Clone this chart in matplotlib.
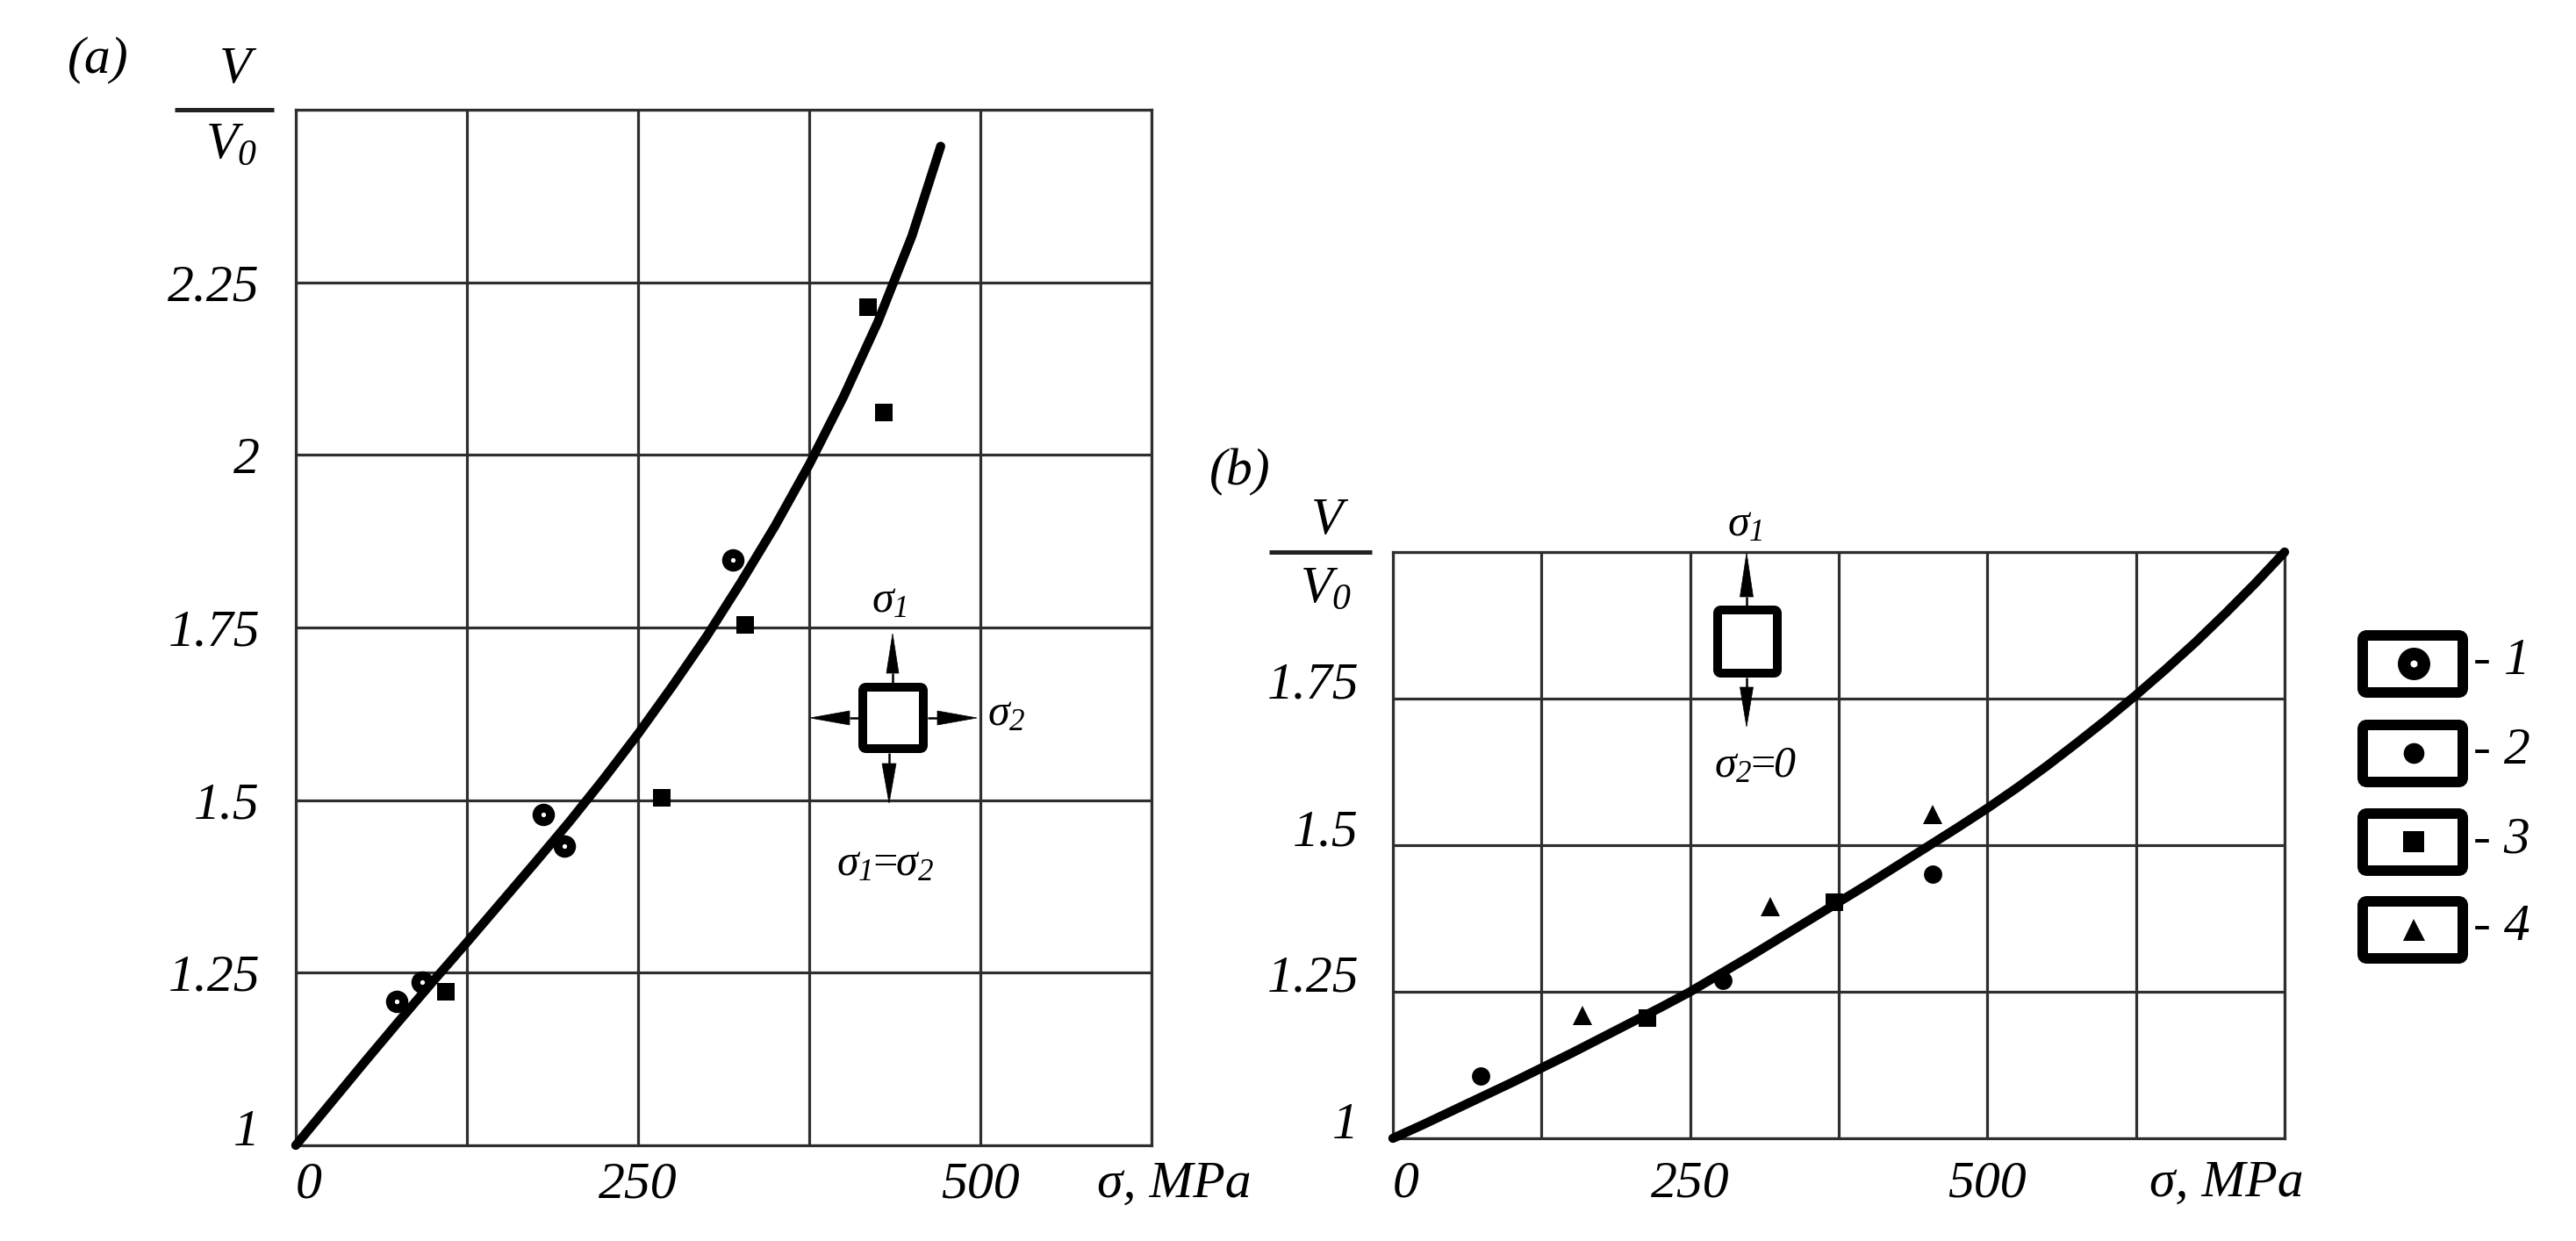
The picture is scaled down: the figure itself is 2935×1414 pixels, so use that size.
import matplotlib
matplotlib.use('Agg')
import matplotlib.pyplot as plt
from matplotlib.patches import FancyBboxPatch, Polygon

# ---------------- data ----------------
# panel (a): sigma1 = sigma2
a_curve_x = [0, 25, 50, 75, 100, 125, 150, 175, 200, 225, 250, 275, 300, 325, 350, 375,
             400, 425, 450, 471]
a_curve_y = [1.000, 1.060, 1.120, 1.179, 1.237, 1.294, 1.352, 1.410, 1.469, 1.531, 1.596,
             1.665, 1.737, 1.815, 1.897, 1.986, 2.084, 2.192, 2.317, 2.447]
a_s1_x = [73.5, 92.3, 181.0, 196.3, 319.0]
a_s1_y = [1.209, 1.237, 1.479, 1.434, 1.848]
a_s3_x = [109.4, 267.5, 328.0, 418.1, 429.2]
a_s3_y = [1.223, 1.504, 1.754, 2.214, 2.062]

# panel (b): sigma2 = 0
b_curve_x = [0, 25, 50, 75, 100, 125, 150, 175, 200, 225, 250, 275, 300, 325, 350, 375,
             400, 425, 450, 475, 500, 525, 550, 575, 600, 625, 650, 675, 700, 725, 750]
b_curve_y = [1.000, 1.023, 1.047, 1.071, 1.095, 1.120, 1.145, 1.171, 1.197, 1.223, 1.250,
             1.280, 1.310, 1.341, 1.372, 1.403, 1.434, 1.466, 1.498, 1.530, 1.563, 1.598,
             1.635, 1.674, 1.714, 1.756, 1.800, 1.846, 1.895, 1.946, 2.000]
b_s2_x = [73.6, 277.8, 453.8]
b_s2_y = [1.106, 1.27, 1.45]
b_s3_x = [213.9, 371.3]
b_s3_y = [1.205, 1.402]
b_s4_x = [159.7, 317.2, 453.8]
b_s4_y = [1.21, 1.395, 1.552]

a_xticks = [0, 125, 250, 375, 500, 625]
a_xlabels = ['0', '', '250', '', '500', '']
a_yticks = [1, 1.25, 1.5, 1.75, 2, 2.25, 2.5]
a_ylabels = ['1', '1.25', '1.5', '1.75', '2', '2.25', '']
b_xticks = [0, 125, 250, 375, 500, 625, 750]
b_xlabels = ['0', '', '250', '', '500', '', '']
b_yticks = [1, 1.25, 1.5, 1.75, 2]
b_ylabels = ['1', '1.25', '1.5', '1.75', '']
x_unit = 'σ, MPa'
legend_labels = ['- 1', '- 2', '- 3', '- 4']

# ---------------- style ----------------
W, H, DPI = 2935, 1414, 100
plt.rcParams['font.family'] = ['Liberation Serif', 'DejaVu Serif']
plt.rcParams['font.style'] = 'italic'
plt.rcParams['mathtext.fontset'] = 'custom'
plt.rcParams['mathtext.it'] = 'Liberation Serif:italic'
plt.rcParams['mathtext.rm'] = 'Liberation Serif:italic'
plt.rcParams['mathtext.default'] = 'it'

GRID = '#2e2e2e'
GLW = 2.3
FS = 43
CURVE_LW = 7.5

ring = dict(ls='none', marker='o', ms=11.2, mew=7.2, mfc='white', mec='black')
dot = dict(ls='none', marker='o', ms=15, mew=0, mfc='black')
sq = dict(ls='none', marker='s', ms=14.5, mew=0, mfc='black')
tri = dict(ls='none', marker='^', ms=15.5, mew=0, mfc='black')

fig = plt.figure(figsize=(W / DPI, H / DPI), dpi=DPI)
fig.patch.set_facecolor('white')


def rect(l, t, r, b):
    return [l / W, 1 - b / H, (r - l) / W, (b - t) / H]


ax_a = fig.add_axes(rect(337, 125, 1312, 1305))
ax_b = fig.add_axes(rect(1587, 629, 2603, 1297))


def setup(ax, xt, xl, yt, yl, xpad, ypad):
    ax.set_xlim(xt[0], xt[-1])
    ax.set_ylim(yt[0], yt[-1])
    ax.set_xticks(xt, labels=xl)
    ax.set_yticks(yt, labels=yl)
    ax.grid(True, color=GRID, lw=GLW)
    ax.set_axisbelow(True)
    for sp in ax.spines.values():
        sp.set_color(GRID)
        sp.set_linewidth(GLW)
    ax.tick_params(length=0, labelsize=FS)
    ax.tick_params(axis='x', pad=xpad)
    ax.tick_params(axis='y', pad=ypad)
    ax.get_xticklabels()[0].set_ha('left')


setup(ax_a, a_xticks, a_xlabels, a_yticks, a_ylabels, 13, 29.5)
setup(ax_b, b_xticks, b_xlabels, b_yticks, b_ylabels, 18, 28)

ax_a.get_yticklabels()[0].set_va('baseline')
for lab in ax_b.get_yticklabels():
    lab.set_va('baseline')

# data
ax_a.plot(a_s1_x, a_s1_y, zorder=3, **ring)
ax_a.plot(a_s3_x, a_s3_y, zorder=3, **sq)
ax_a.plot(a_curve_x, a_curve_y, color='black', lw=CURVE_LW, solid_capstyle='round',
          solid_joinstyle='round', zorder=4, clip_on=False)

ax_b.plot(b_s2_x, b_s2_y, zorder=3, **dot)
ax_b.plot(b_s3_x, b_s3_y, zorder=3, **sq)
ax_b.plot(b_s4_x, b_s4_y, zorder=3, **tri)
ax_b.plot(b_curve_x, b_curve_y, color='black', lw=CURVE_LW, solid_capstyle='round',
          solid_joinstyle='round', zorder=4, clip_on=False)

# ---------------- overlay in pixel coordinates ----------------
ov = fig.add_axes([0, 0, 1, 1], zorder=10)
ov.set_xlim(0, W)
ov.set_ylim(H, 0)
ov.axis('off')

# unit labels under the x axes
ov.text(1250, 1305 + 18, x_unit, ha='left', va='top', fontsize=FS)
ov.text(2449, 1297 + 25, x_unit, ha='left', va='top', fontsize=FS)

# panel letters
ov.text(112, 68, '(a)', ha='center', va='center', fontsize=FS)
ov.text(1413, 538, '(b)', ha='center', va='center', fontsize=FS)

# V / V0 fraction labels
ov.text(268, 80, 'V', ha='center', va='center', fontsize=FS)
ov.plot([199, 312], [125, 125], color='#222222', lw=3.6, solid_capstyle='butt')
ov.text(263, 166, r'$V_{0}$', ha='center', va='center', fontsize=FS)
ov.text(1512, 594, 'V', ha='center', va='center', fontsize=FS)
ov.plot([1446, 1563], [629, 629], color='#222222', lw=3.6, solid_capstyle='butt')
ov.text(1510, 672, r'$V_{0}$', ha='center', va='center', fontsize=FS)


def arrow(x0, y0, x1, y1, hl, hw):
    dx, dy = x1 - x0, y1 - y0
    L = (dx * dx + dy * dy) ** 0.5
    ux, uy = dx / L, dy / L
    bx, by = x1 - ux * hl, y1 - uy * hl
    ov.plot([x0, bx], [y0, by], color='black', lw=1.8, solid_capstyle='butt')
    px, py = -uy, ux
    ov.add_patch(Polygon([[x1, y1], [bx + px * hw / 2, by + py * hw / 2],
                          [bx - px * hw / 2, by - py * hw / 2]],
                         closed=True, fc='black', ec='black', lw=0.5))


def element(l, t, r, b):
    lw_px = 10
    ov.add_patch(FancyBboxPatch((l + lw_px / 2, t + lw_px / 2), r - l - lw_px, b - t - lw_px,
                                boxstyle='round,pad=0,rounding_size=4',
                                fc='white', ec='black', lw=lw_px * 72 / DPI))


# panel (a) stress element
element(978, 778, 1057, 858)
arrow(1017, 778, 1017, 722, 45, 14)
arrow(1013, 858, 1013, 915, 45, 16)
arrow(978, 818, 923, 818, 45, 16)
arrow(1057, 818, 1113, 818, 45, 16)
SFS = 36
ov.text(1013, 685, r'$\sigma_{1}$', ha='center', va='center', fontsize=SFS)
ov.text(1147, 814, r'$\sigma_{2}$', ha='center', va='center', fontsize=SFS)
ov.text(1008, 985, r'$\sigma_{1}\!\!=\!\!\sigma_{2}$', ha='center', va='center', fontsize=SFS)

# panel (b) stress element
element(1952, 690, 2030, 772)
arrow(1990, 690, 1990, 630, 50, 15)
arrow(1990, 772, 1990, 828, 45, 15)
ov.text(1988, 598, r'$\sigma_{1}$', ha='center', va='center', fontsize=SFS)
ov.text(2000, 873, r'$\sigma_{2}\!\!=\!\!0$', ha='center', va='center', fontsize=SFS)

# legend boxes
leg_tops = [718, 820, 921, 1021]
leg_styles = [dict(ls='none', marker='o', ms=16.2, mew=10.4, mfc='white', mec='black'),
              dict(ls='none', marker='o', ms=17, mew=0, mfc='black'),
              dict(ls='none', marker='s', ms=17, mew=0, mfc='black'),
              dict(ls='none', marker='^', ms=18, mew=0, mfc='black')]
for top, st, lab in zip(leg_tops, leg_styles, legend_labels):
    lw_px = 12
    ov.add_patch(FancyBboxPatch((2686 + lw_px / 2, top + lw_px / 2), 126 - lw_px, 77 - lw_px,
                                boxstyle='round,pad=0,rounding_size=5',
                                fc='white', ec='black', lw=lw_px * 72 / DPI))
    ov.plot([2750], [top + 38], **st)
    ov.text(2818, top + 36, lab, ha='left', va='center', fontsize=FS)

fig.savefig('out.png', dpi=DPI, facecolor='white')
